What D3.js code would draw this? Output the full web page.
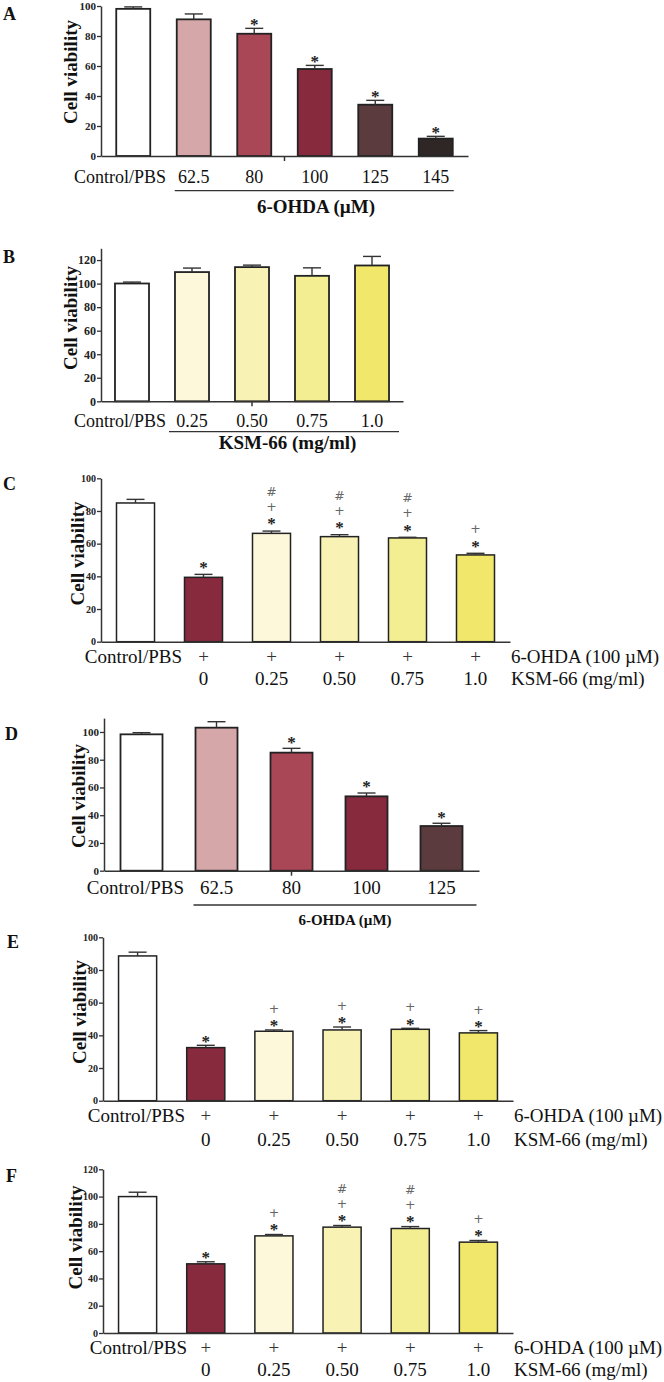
<!DOCTYPE html>
<html><head><meta charset="utf-8">
<script src="https://cdn.jsdelivr.net/npm/d3@7"></script>
<style>body{margin:0;background:#fff} svg{display:block}</style>
</head><body>
<svg id="chart" width="664" height="1382"></svg>
<script>
// ---------------- DATA ----------------
const catsA = ["Control/PBS", "62.5", "80", "100", "125", "145"];
const valsA = [98.1, 91.1, 81.5, 58.0, 34.2, 11.6];
const errsA = [1.3, 3.6, 3.6, 2.4, 2.9, 1.5];
const marksA = [[], [], ["*"], ["*"], ["*"], ["*"]];
const ticksA = [0, 20, 40, 60, 80, 100];

const catsB = ["Control/PBS", "0.25", "0.50", "0.75", "1.0"];
const valsB = [100.1, 109.8, 114.0, 106.6, 115.4];
const errsB = [1.2, 3.4, 1.7, 6.8, 7.7];
const marksB = [[], [], [], [], []];
const ticksB = [0, 20, 40, 60, 80, 100, 120];

const ohdaRow = ["", "+", "+", "+", "+", "+"];
const ksmRow = ["", "0", "0.25", "0.50", "0.75", "1.0"];

const valsC = [84.9, 39.4, 66.3, 64.3, 63.5, 53.1];
const errsC = [2.2, 1.8, 1.4, 1.2, 0.4, 1.0];
const marksC = [[], ["*"], ["*", "+", "#"], ["*", "+", "#"], ["*", "+", "#"], ["*", "+"]];
const ticksC = [0, 20, 40, 60, 80, 100];

const catsD = ["Control/PBS", "62.5", "80", "100", "125"];
const valsD = [98.3, 103.1, 85.1, 53.6, 32.2];
const errsD = [1.2, 4.3, 3.1, 2.4, 2.0];
const marksD = [[], [], ["*"], ["*"], ["*"]];
const ticksD = [0, 20, 40, 60, 80, 100];

const valsE = [88.6, 32.5, 42.5, 43.3, 43.7, 41.5];
const errsE = [2.3, 1.4, 0.8, 1.8, 0.6, 1.4];
const marksE = [[], ["*"], ["*", "+"], ["*", "+"], ["*", "+"], ["*", "+"]];
const ticksE = [0, 20, 40, 60, 80, 100];

const valsF = [100.0, 50.7, 71.2, 77.6, 76.6, 66.6];
const errsF = [3.2, 1.5, 1.0, 1.2, 1.4, 1.2];
const marksF = [[], ["*"], ["*", "+"], ["*", "+", "#"], ["*", "+", "#"], ["*", "+"]];
const ticksF = [0, 20, 40, 60, 80, 100, 120];

const colorsOHDA = ["#ffffff", "#d6a7a8", "#a94756", "#872a3e", "#5b3b3e", "#2f2726"];
const colorsKSM = ["#ffffff", "#fdf8da", "#f8f3b4", "#f4ee92", "#f1e86b"];
const colorsCombo = ["#ffffff", "#872a3e", "#fdf8da", "#f8f3b4", "#f4ee92", "#f1e86b"];

const yTitle = "Cell viability";
const ohdaTitle = "6-OHDA (\u00b5M)";
const ksmTitle = "KSM-66 (mg/ml)";
const ohdaRowTitle = "6-OHDA (100 \u00b5M)";
const ksmRowTitle = "KSM-66 (mg/ml)";

// ---------------- DRAWING ----------------
const SERIF = "'Liberation Serif','Times New Roman',Times,serif";
const SANS = "'DejaVu Sans',sans-serif";
const svg = d3.select("#chart");

const symStyle = {
  "*": {family: SERIF, size: 17, weight: "bold", fill: "#222", dy: 8.3},
  "+": {family: SANS, size: 12.5, weight: "normal", fill: "#666", dy: 4.5},
  "#": {family: SANS, size: 12.5, weight: "normal", fill: "#666", dy: 4.6}
};
const stackOffsets = [0, 14.5, 29.5];

function drawPanel(c) {
  const g = svg.append("g");
  const n = c.vals.length;
  const idx = d3.range(n);
  const x = d3.scaleBand().domain(idx).range(c.xRange).paddingInner(c.pi).paddingOuter(c.po);
  const y = d3.scaleLinear().domain(c.yDomain).range(c.yRange);

  // panel letter
  g.append("text").attr("x", c.letter[1]).attr("y", c.letter[2])
    .attr("font-family", SERIF).attr("font-weight", "bold").attr("font-size", 18)
    .attr("fill", "#111").text(c.letter[0]);

  // bars
  g.selectAll("rect.bar").data(idx).join("rect").attr("class", "bar")
    .attr("x", i => x(i)).attr("width", x.bandwidth())
    .attr("y", i => y(c.vals[i])).attr("height", i => y(0) - y(c.vals[i]))
    .attr("fill", i => c.colors[i]).attr("stroke", "#222").attr("stroke-width", c.barStroke);

  // error bars (upper only)
  const cx = i => x(i) + x.bandwidth() / 2;
  g.selectAll("line.ev").data(idx).join("line")
    .attr("x1", cx).attr("x2", cx)
    .attr("y1", i => y(c.vals[i])).attr("y2", i => y(c.vals[i] + c.errs[i]))
    .attr("stroke", "#333").attr("stroke-width", 1.4);
  g.selectAll("line.ec").data(idx).join("line")
    .attr("x1", i => cx(i) - 9).attr("x2", i => cx(i) + 9)
    .attr("y1", i => y(c.vals[i] + c.errs[i])).attr("y2", i => y(c.vals[i] + c.errs[i]))
    .attr("stroke", "#333").attr("stroke-width", 1.4);

  // significance marks stacked above each error bar
  idx.forEach(i => {
    c.marks[i].forEach((m, k) => {
      const s = symStyle[m];
      const cy = y(c.vals[i] + c.errs[i]) - c.markGap - stackOffsets[k];
      g.append("text").attr("x", cx(i)).attr("y", cy + s.dy)
        .attr("text-anchor", "middle").attr("font-family", s.family)
        .attr("font-weight", s.weight).attr("font-size", s.size).attr("fill", s.fill).text(m);
    });
  });

  // y axis
  const ya = g.append("g").attr("transform", `translate(${c.xRange[0]},0)`)
    .call(d3.axisLeft(y).tickValues(c.ticks).tickSize(4).tickSizeOuter(0).tickPadding(1).tickFormat(d3.format("d")));
  ya.select(".domain").attr("stroke", "#333").attr("stroke-width", 1.5);
  ya.selectAll(".tick line").attr("stroke", "#333").attr("stroke-width", 1.3);
  ya.selectAll(".tick text").attr("font-family", SERIF).attr("font-weight", "bold")
    .attr("font-size", c.tickFont).attr("fill", "#222");

  // x axis (domain line only)
  const xa = g.append("g").attr("transform", `translate(0,${y(0)})`)
    .call(d3.axisBottom(x).tickValues([]).tickSizeOuter(0));
  xa.select(".domain").attr("stroke", "#333").attr("stroke-width", 1.5);
  if (c.midTick) {
    const mx = (c.xRange[0] + c.xRange[1]) / 2;
    g.append("line").attr("x1", mx).attr("x2", mx).attr("y1", y(0)).attr("y2", y(0) + 5)
      .attr("stroke", "#333").attr("stroke-width", 1.5);
  }

  // y title
  g.append("text").attr("transform", `translate(${c.yTitle[0]},${c.yTitle[1]}) rotate(-90)`)
    .attr("text-anchor", "middle").attr("font-family", SERIF).attr("font-weight", "bold")
    .attr("font-size", 19).attr("fill", "#111").text(yTitle);

  // x labels
  if (c.cats) {
    idx.forEach(i => {
      const t = g.append("text").attr("y", c.labelY).attr("font-family", SERIF)
        .attr("font-size", c.labelFont).attr("fill", "#111").text(c.cats[i]);
      if (i === 0) t.attr("x", c.ctrlEnd).attr("text-anchor", "end");
      else t.attr("x", cx(i)).attr("text-anchor", "middle");
    });
    const lx0 = x(1) + c.lineExt[0], lx1 = x(n - 1) + x.bandwidth() + c.lineExt[1];
    g.append("line").attr("x1", lx0).attr("x2", lx1).attr("y1", c.lineY).attr("y2", c.lineY)
      .attr("stroke", "#333").attr("stroke-width", 1.3);
    g.append("text").attr("x", c.groupTitle[1]).attr("y", c.groupTitle[2])
      .attr("text-anchor", "middle").attr("font-family", SERIF).attr("font-weight", "bold")
      .attr("font-size", c.groupTitle[3]).attr("fill", "#111").text(c.groupTitle[0]);
  } else {
    // two-row treatment labels
    g.append("text").attr("x", c.ctrlEnd).attr("y", c.row1Y).attr("text-anchor", "end")
      .attr("font-family", SERIF).attr("font-size", 19).attr("fill", "#111").text("Control/PBS");
    idx.slice(1).forEach(i => {
      g.append("text").attr("x", cx(i)).attr("y", c.row1Y).attr("text-anchor", "middle")
        .attr("font-family", SERIF).attr("font-size", 19).attr("fill", "#333").text(ohdaRow[i]);
      g.append("text").attr("x", cx(i)).attr("y", c.row2Y).attr("text-anchor", "middle")
        .attr("font-family", SERIF).attr("font-size", 19).attr("fill", "#111").text(ksmRow[i]);
    });
    g.append("text").attr("x", c.xRange[1] + 1).attr("y", c.row1Y)
      .attr("font-family", SERIF).attr("font-size", 19).attr("fill", "#111").text(ohdaRowTitle);
    g.append("text").attr("x", c.xRange[1] + 1).attr("y", c.row2Y)
      .attr("font-family", SERIF).attr("font-size", 19).attr("fill", "#111").text(ksmRowTitle);
  }
}

drawPanel({letter: ["A", 3, 20], vals: valsA, errs: errsA, marks: marksA, colors: colorsOHDA,
  ticks: ticksA, yDomain: [0, 100], yRange: [156, 6], xRange: [101, 468], pi: 0.438, po: 0.252,
  tickFont: 11, barStroke: 1.8, markGap: 6.5, midTick: true, yTitle: [77, 72],
  cats: catsA, labelY: 182.5, labelFont: 18, ctrlEnd: 166, lineExt: [-2, 1], lineY: 190.7,
  groupTitle: [ohdaTitle, 316, 213, 19]});

drawPanel({letter: ["B", 3, 263], vals: valsB, errs: errsB, marks: marksB, colors: colorsKSM,
  ticks: ticksB, yDomain: [0, 130], yRange: [401.3, 248.3], xRange: [101, 403], pi: 0.433, po: 0.233,
  tickFont: 12, barStroke: 1.8, markGap: 8, midTick: true, yTitle: [77, 318],
  cats: catsB, labelY: 427, labelFont: 18, ctrlEnd: 166, lineExt: [-6, 10], lineY: 431.7,
  groupTitle: [ksmTitle, 287.5, 449, 19]});

drawPanel({letter: ["C", 3, 490], vals: valsC, errs: errsC, marks: marksC, colors: colorsCombo,
  ticks: ticksC, yDomain: [0, 100], yRange: [641.7, 478.3], xRange: [101, 510], pi: 0.441, po: 0.228,
  tickFont: 10, barStroke: 1.5, markGap: 10, midTick: false, yTitle: [84, 553.5],
  ctrlEnd: 182, row1Y: 663, row2Y: 685});

drawPanel({letter: ["D", 5, 740], vals: valsD, errs: errsD, marks: marksD, colors: colorsOHDA,
  ticks: ticksD, yDomain: [0, 110], yRange: [870.7, 718.1], xRange: [104, 479], pi: 0.44, po: 0.22,
  tickFont: 11, barStroke: 1.8, markGap: 9, midTick: true, yTitle: [85, 796],
  cats: catsD, labelY: 894, labelFont: 19, ctrlEnd: 184, lineExt: [-2, 14], lineY: 905,
  groupTitle: [ohdaTitle, 345, 925, 15]});

drawPanel({letter: ["E", 7, 948], vals: valsE, errs: errsE, marks: marksE, colors: colorsCombo,
  ticks: ticksE, yDomain: [0, 100], yRange: [1100.7, 937.3], xRange: [103, 513], pi: 0.441, po: 0.228,
  tickFont: 10, barStroke: 1.5, markGap: 7, midTick: false, yTitle: [86, 1012],
  ctrlEnd: 185, row1Y: 1121.7, row2Y: 1146});

drawPanel({letter: ["F", 6, 1182], vals: valsF, errs: errsF, marks: marksF, colors: colorsCombo,
  ticks: ticksF, yDomain: [0, 120], yRange: [1333, 1169.3], xRange: [103, 513], pi: 0.441, po: 0.228,
  tickFont: 10, barStroke: 1.5, markGap: 7.5, midTick: false, yTitle: [82, 1237.5],
  ctrlEnd: 187, row1Y: 1354, row2Y: 1375.5});
</script>
</body></html>
